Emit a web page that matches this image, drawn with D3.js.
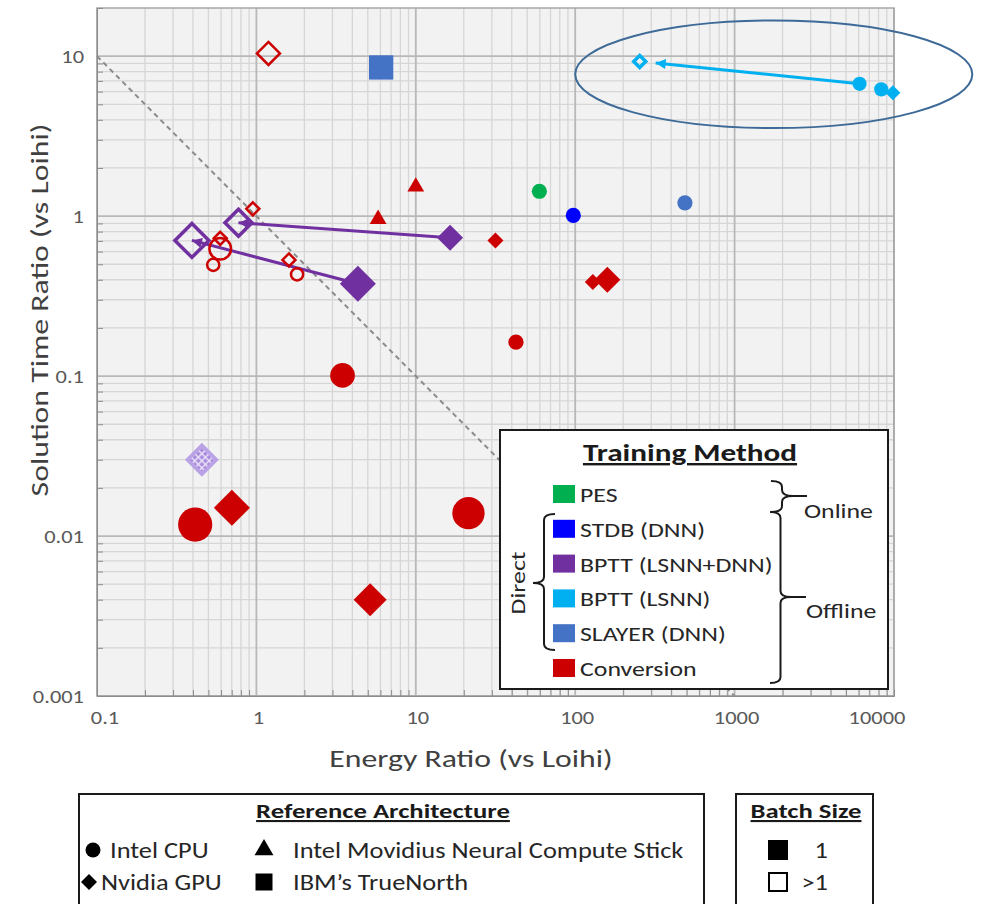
<!DOCTYPE html>
<html>
<head>
<meta charset="utf-8">
<script src="https://cdn.jsdelivr.net/npm/d3@7"></script>
<style>
  body { margin: 0; background: #fff; }
  svg { font-family: Carlito, Calibri, Lato, "Open Sans", sans-serif; }
</style>
</head>
<body>
<div id="chart"></div>
<script>
// tick values / labels
var xTicks = [0.1, 1, 10, 100, 1000, 10000];
var xTickLabels = ["0.1", "1", "10", "100", "1000", "10000"];
var yTicks = [0.001, 0.01, 0.1, 1, 10];
var yTickLabels = ["0.001", "0.01", "0.1", "1", "10"];

// training methods (legend order)
var methods = ["PES", "STDB (DNN)", "BPTT (LSNN+DNN)", "BPTT (LSNN)", "SLAYER (DNN)", "Conversion"];

// points
var energy  = [1.19, 10, 5.8, 31.6, 0.95, 0.593, 0.593, 0.536, 1.6, 1.8, 4.88, 3.47, 129, 159, 42.5, 0.413, 0.702, 5.17, 21.4,
               59.6, 97.3, 6.06, 488,
               0.394, 0.772, 16.4, 4.33, 0.455,
               254, 6080, 8320, 9840];
var solTime = [10.4, 1.56, 0.98, 0.705, 1.11, 0.726, 0.625, 0.496, 0.532, 0.432, 0.374, 0.101, 0.387, 0.40, 0.163, 0.0118, 0.015, 0.004, 0.0139,
               1.43, 1.01, 8.5, 1.21,
               0.705, 0.91, 0.733, 0.378, 0.030,
               9.27, 6.72, 6.2, 5.9];
var method  = ["Conversion", "Conversion", "Conversion", "Conversion", "Conversion", "Conversion", "Conversion", "Conversion", "Conversion", "Conversion",
               "Conversion", "Conversion", "Conversion", "Conversion", "Conversion", "Conversion", "Conversion", "Conversion", "Conversion",
               "PES", "STDB (DNN)", "SLAYER (DNN)", "SLAYER (DNN)",
               "BPTT (LSNN+DNN)", "BPTT (LSNN+DNN)", "BPTT (LSNN+DNN)", "BPTT (LSNN+DNN)", "BPTT (LSNN+DNN)",
               "BPTT (LSNN)", "BPTT (LSNN)", "BPTT (LSNN)", "BPTT (LSNN)"];
var arch    = ["gpu", "ncs", "ncs", "gpu", "gpu", "gpu", "cpu", "cpu", "gpu", "cpu", "gpu", "cpu", "gpu", "gpu", "cpu", "cpu", "gpu", "gpu", "cpu",
               "cpu", "cpu", "truenorth", "cpu",
               "gpu", "gpu", "gpu", "gpu", "gpu",
               "gpu", "cpu", "cpu", "gpu"];
var batch   = [">1", "1", "1", "1", ">1", ">1", ">1", ">1", ">1", ">1", ">1", "1", "1", "1", "1", "1", "1", "1", "1",
               "1", "1", "1", "1",
               ">1", ">1", "1", "1", "mixed",
               ">1", "1", "1", "1"];
var netSize = [2, 1, 1, 1, 1, 1, 2, 1, 1, 1, 0.6, 2, 1, 2, 1, 3, 3, 2.7, 2.8,
               1, 1, 2.1, 1,
               3.1, 2.4, 2, 3, 2.6,
               0.9, 0.9, 0.9, 0.9];
// arrows: [from, to] point indices
var arrows = [[25, 24], [26, 23], [29, 28]];

// ellipse annotation in data units: [xLeft, xRight, yTop, yBottom]
var ellipseBox = [100, 31000, 16.7, 3.55];

var svgWidth = 984;
var svgHeight = 904;
var plot = { left: 97, right: 894, top: 8, bottom: 696 };

var svg = d3.select("#chart").append("svg")
  .attr("width", svgWidth).attr("height", svgHeight);

var x = d3.scaleLog().domain([0.1, 10000]).range([plot.left, plot.right]);
var y = d3.scaleLog().domain([0.001, 20]).range([plot.bottom, plot.top]);
var sizeScale = d3.scaleLinear().domain([1, 3]).range([8, 18]);

var color = d3.scaleOrdinal().domain(methods)
  .range(["#00b050", "#0000ff", "#7030a0", "#00b0f0", "#4472c4", "#cc0000"]);
var shapeOf = { cpu: "circle", gpu: "diamond", ncs: "triangle", truenorth: "square" };

var defs = svg.append("defs");
var pat = defs.append("pattern").attr("id", "dots")
  .attr("patternUnits", "userSpaceOnUse").attr("width", 5).attr("height", 5)
  .attr("patternTransform", "rotate(45)");
pat.append("rect").attr("width", 5).attr("height", 5).attr("fill", "#a98bdc");
pat.append("rect").attr("width", 5).attr("height", 1.4).attr("fill", "#eee6fa");
pat.append("rect").attr("width", 1.4).attr("height", 5).attr("fill", "#eee6fa");

["BPTT (LSNN+DNN)", "BPTT (LSNN)"].forEach(function (m, i) {
  defs.append("marker").attr("id", "arrow" + i)
    .attr("viewBox", "0 0 10 10").attr("refX", 10).attr("refY", 5)
    .attr("markerUnits", "userSpaceOnUse")
    .attr("markerWidth", 11).attr("markerHeight", 10).attr("orient", "auto")
    .append("path").attr("d", "M0,0 L10,5 L0,10 Z").attr("fill", color(m));
});

// plot background
svg.append("rect")
  .attr("x", plot.left).attr("y", plot.top)
  .attr("width", plot.right - plot.left).attr("height", plot.bottom - plot.top)
  .attr("fill", "#f2f2f2");

function minorTicks(lo, hi) {
  var out = [];
  for (var e = Math.floor(Math.log10(lo)); e <= Math.ceil(Math.log10(hi)); e++) {
    for (var k = 2; k <= 9; k++) {
      var v = k * Math.pow(10, e);
      if (v > lo && v < hi) out.push(v);
    }
  }
  return out;
}
var xMinor = minorTicks(0.1, 10000);
var yMinor = minorTicks(0.001, 20);

var grid = svg.append("g");
grid.selectAll(".xm").data(xMinor).enter().append("line")
  .attr("x1", d => x(d)).attr("x2", d => x(d))
  .attr("y1", plot.top).attr("y2", plot.bottom)
  .attr("stroke", "#d6d6d6").attr("stroke-width", 1.3);
grid.selectAll(".ym").data(yMinor).enter().append("line")
  .attr("y1", d => y(d)).attr("y2", d => y(d))
  .attr("x1", plot.left).attr("x2", plot.right)
  .attr("stroke", "#d6d6d6").attr("stroke-width", 1.3);
grid.selectAll(".xM").data(xTicks).enter().append("line")
  .attr("x1", d => x(d)).attr("x2", d => x(d))
  .attr("y1", plot.top).attr("y2", plot.bottom)
  .attr("stroke", "#b8b8b8").attr("stroke-width", 1.8);
grid.selectAll(".yM").data(yTicks).enter().append("line")
  .attr("y1", d => y(d)).attr("y2", d => y(d))
  .attr("x1", plot.left).attr("x2", plot.right)
  .attr("stroke", "#b8b8b8").attr("stroke-width", 1.8);

// frame
svg.append("rect")
  .attr("x", plot.left).attr("y", plot.top)
  .attr("width", plot.right - plot.left).attr("height", plot.bottom - plot.top)
  .attr("fill", "none").attr("stroke", "#a6a6a6").attr("stroke-width", 1.5);

// inward minor ticks on left and bottom axes
var bottomAxis = d3.axisBottom(x).tickValues(xMinor).tickSize(-6).tickFormat("");
var leftAxis = d3.axisLeft(y).tickValues(yMinor).tickSize(-6).tickFormat("");
svg.append("g").attr("transform", `translate(0, ${plot.bottom})`).call(bottomAxis)
  .call(g => g.select(".domain").attr("stroke", "#8c8c8c"))
  .call(g => g.selectAll(".tick line").attr("stroke", "#8c8c8c"));
svg.append("g").attr("transform", `translate(${plot.left}, 0)`).call(leftAxis)
  .call(g => g.select(".domain").attr("stroke", "#8c8c8c"))
  .call(g => g.selectAll(".tick line").attr("stroke", "#8c8c8c"));

// tick labels
svg.append("g").selectAll("text").data(xTicks).enter().append("text")
  .attr("data-k", 1.18)
  .attr("x", (d, i) => x(d) + (i === 0 ? 8 : (i === xTicks.length - 1 ? -17 : 2)))
  .attr("y", 724)
  .attr("text-anchor", "middle").attr("font-size", 19).attr("fill", "#595959")
  .text((d, i) => xTickLabels[i]);
svg.append("g").selectAll("text").data(yTicks).enter().append("text")
  .attr("data-k", 1.18)
  .attr("x", 84).attr("y", d => y(d) + 7)
  .attr("text-anchor", "end").attr("font-size", 19).attr("fill", "#595959")
  .text((d, i) => yTickLabels[i]);

// axis titles
svg.append("text").attr("x", 471).attr("y", 767).attr("text-anchor", "middle")
  .attr("data-k", 1.27)
  .attr("font-size", 25).attr("fill", "#404040").text("Energy Ratio (vs Loihi)");
svg.append("text").attr("transform", "translate(48, 310) rotate(-90)")
  .attr("data-k", 1.27)
  .attr("text-anchor", "middle").attr("font-size", 25).attr("fill", "#404040")
  .text("Solution Time Ratio (vs Loihi)");

// y = 1/x parity line
svg.append("line")
  .attr("x1", x(0.1)).attr("y1", y(10)).attr("x2", x(1000)).attr("y2", y(0.001))
  .attr("stroke", "#8c8c8c").attr("stroke-width", 2).attr("stroke-dasharray", "5,4");

var points = energy.map((e, i) => ({
  e: e, t: solTime[i], m: method[i], a: arch[i], b: batch[i], s: netSize[i]
}));

function arrowEnd(d) {
  var p0 = points[d[0]], p1 = points[d[1]];
  var gap = p1.m === "BPTT (LSNN)" ? 16 : 0;
  var dx = x(p0.e) - x(p1.e), dy = y(p0.t) - y(p1.t), L = Math.hypot(dx, dy);
  return [x(p1.e) + dx / L * gap, y(p1.t) + dy / L * gap];
}

// arrows between batch settings
svg.append("g").selectAll("line").data(arrows).enter().append("line")
  .attr("x1", d => x(points[d[0]].e)).attr("y1", d => y(points[d[0]].t))
  .attr("x2", d => arrowEnd(d)[0])
  .attr("y2", d => arrowEnd(d)[1])
  .attr("stroke", d => color(points[d[0]].m)).attr("stroke-width", 3)
  .attr("marker-end", d => points[d[0]].m === "BPTT (LSNN)" ? "url(#arrow1)" : "url(#arrow0)");

function shapePath(shape, r) {
  if (shape === "circle") {
    var p = d3.path(); p.arc(0, 0, r, 0, 2 * Math.PI); p.closePath(); return p.toString();
  }
  if (shape === "diamond") return `M0,${-r}L${r},0L0,${r}L${-r},0Z`;
  if (shape === "triangle") return `M0,${-r}L${r * 1.05},${r * 0.8}L${-r * 1.05},${r * 0.8}Z`;
  return `M${-r},${-r}H${r}V${r}H${-r}Z`;
}

svg.append("g").selectAll("path").data(points).enter().append("path")
  .attr("transform", d => `translate(${x(d.e)}, ${y(d.t)})`)
  .attr("d", function (d) {
    var r = sizeScale(d.s);
    if (shapeOf[d.a] === "circle") r = r * 0.95;
    if (shapeOf[d.a] === "square") r = r * 0.9;
    if (d.b === ">1" || d.b === "mixed") r = r - 1.5;
    return shapePath(shapeOf[d.a], r);
  })
  .attr("fill", d => d.b === "1" ? color(d.m) : (d.b === "mixed" ? "url(#dots)" : "none"))
  .attr("stroke", d => d.b === "mixed" ? "#b9a2e6" : color(d.m))
  .attr("stroke-width", d => d.b === "1" ? 0 : (d.m === "Conversion" ? 2.5 : 3.5))
  .attr("stroke-linejoin", "miter");

// training method legend
var leg = svg.append("g");
leg.append("rect").attr("x", 500).attr("y", 430).attr("width", 388).attr("height", 259)
  .attr("fill", "#fff").attr("stroke", "#1a1a1a").attr("stroke-width", 2);
leg.append("text").attr("x", 690).attr("y", 461).attr("text-anchor", "middle")
  .attr("data-k", 1.3)
  .attr("font-size", 24).attr("font-weight", "bold").attr("fill", "#1a1a1a")
  .attr("text-decoration", "underline").text("Training Method");
var legY = d3.scalePoint().domain(methods).range([494, 668]);
leg.selectAll(".sw").data(methods).enter().append("rect")
  .attr("x", 553).attr("y", d => legY(d) - 9).attr("width", 22).attr("height", 18)
  .attr("fill", d => color(d));
leg.selectAll(".lt").data(methods).enter().append("text")
  .attr("data-k", 1.23)
  .attr("x", 580).attr("y", d => legY(d) + 8)
  .attr("font-size", 21).attr("fill", "#262626").text(d => d);

function brace(xEnd, xTip, y0, y1, ym) {
  var s = (xEnd + xTip) / 2, c = 6;
  return `M${xEnd},${y0}Q${s},${y0} ${s},${y0 + c}L${s},${ym - c}Q${s},${ym} ${xTip},${ym}` +
    `Q${s},${ym} ${s},${ym + c}L${s},${y1 - c}Q${s},${y1} ${xEnd},${y1}`;
}
leg.append("path").attr("d", brace(555, 533, 514, 650, 583))
  .attr("fill", "none").attr("stroke", "#1a1a1a").attr("stroke-width", 2);
leg.append("path").attr("d", brace(771, 793, 481, 512, 496) + "M793,496H807")
  .attr("fill", "none").attr("stroke", "#1a1a1a").attr("stroke-width", 2);
leg.append("path").attr("d", brace(770, 791, 512, 683, 597) + "M791,597H806")
  .attr("fill", "none").attr("stroke", "#1a1a1a").attr("stroke-width", 2);
leg.append("text").attr("transform", "translate(525, 583) rotate(-90)").attr("text-anchor", "middle")
  .attr("data-k", 1.23)
  .attr("font-size", 21).attr("fill", "#262626").text("Direct");
leg.append("text").attr("x", 804).attr("y", 518).attr("data-k", 1.23)
  .attr("font-size", 21).attr("fill", "#262626").text("Online");
leg.append("text").attr("x", 806).attr("y", 618).attr("data-k", 1.23)
  .attr("font-size", 21).attr("fill", "#262626").text("Offline");

// highlight ellipse
svg.append("ellipse")
  .attr("cx", (x(ellipseBox[0]) + x(ellipseBox[1])) / 2)
  .attr("cy", (y(ellipseBox[2]) + y(ellipseBox[3])) / 2)
  .attr("rx", (x(ellipseBox[1]) - x(ellipseBox[0])) / 2)
  .attr("ry", (y(ellipseBox[3]) - y(ellipseBox[2])) / 2)
  .attr("fill", "none").attr("stroke", "#3e6a98").attr("stroke-width", 2);

// bottom legends
var archItems = [["circle", "Intel CPU"], ["diamond", "Nvidia GPU"], ["triangle", "Intel Movidius Neural Compute Stick"], ["square", "IBM\u2019s TrueNorth"]];
var batchItems = ["1", ">1"];

var ra = svg.append("g");
ra.append("rect").attr("x", 79).attr("y", 794).attr("width", 625).attr("height", 130)
  .attr("fill", "#fff").attr("stroke", "#1a1a1a").attr("stroke-width", 2);
ra.append("text").attr("x", 383).attr("y", 818).attr("text-anchor", "middle")
  .attr("data-k", 1.27)
  .attr("font-size", 21).attr("font-weight", "bold").attr("fill", "#1a1a1a")
  .attr("text-decoration", "underline").text("Reference Architecture");
var archPos = [[93, 850, 110], [89, 882, 101], [264, 850, 293], [264, 882, 293]];
archItems.forEach(function (it, i) {
  var p = archPos[i];
  var r = it[0] === "circle" ? 7.5 : (it[0] === "diamond" ? 8 : (it[0] === "square" ? 8.5 : 9));
  ra.append("path").attr("transform", `translate(${p[0]}, ${p[1] - (it[0] === "triangle" ? 2 : 0)})`)
    .attr("d", shapePath(it[0], r)).attr("fill", "#000");
  ra.append("text").attr("x", p[2]).attr("y", p[1] + 8).attr("data-k", 1.2)
    .attr("font-size", 22).attr("fill", "#262626").text(it[1]);
});

var bs = svg.append("g");
bs.append("rect").attr("x", 736).attr("y", 794).attr("width", 137).attr("height", 130)
  .attr("fill", "#fff").attr("stroke", "#1a1a1a").attr("stroke-width", 2);
bs.append("text").attr("x", 806).attr("y", 818).attr("text-anchor", "middle")
  .attr("data-k", 1.27)
  .attr("font-size", 21).attr("font-weight", "bold").attr("fill", "#1a1a1a")
  .attr("text-decoration", "underline").text("Batch Size");
batchItems.forEach(function (b, i) {
  var cy = 850 + i * 32;
  bs.append("rect").attr("x", 769).attr("y", cy - 9).attr("width", 18).attr("height", 18)
    .attr("fill", b === "1" ? "#000" : "#fff").attr("stroke", "#000").attr("stroke-width", 2);
  bs.append("text").attr("x", 828).attr("y", cy + 8).attr("text-anchor", "end").attr("data-k", 1.2)
    .attr("font-size", 22).attr("fill", "#262626").text(b);
});

// the original font runs wider than Lato at the same height: widen the glyphs
svg.selectAll("text").each(function () {
  var k = +d3.select(this).attr("data-k") || 1.2;
  var w = this.getComputedTextLength();
  d3.select(this).attr("textLength", w * k).attr("lengthAdjust", "spacingAndGlyphs");
});
</script>
</body>
</html>
